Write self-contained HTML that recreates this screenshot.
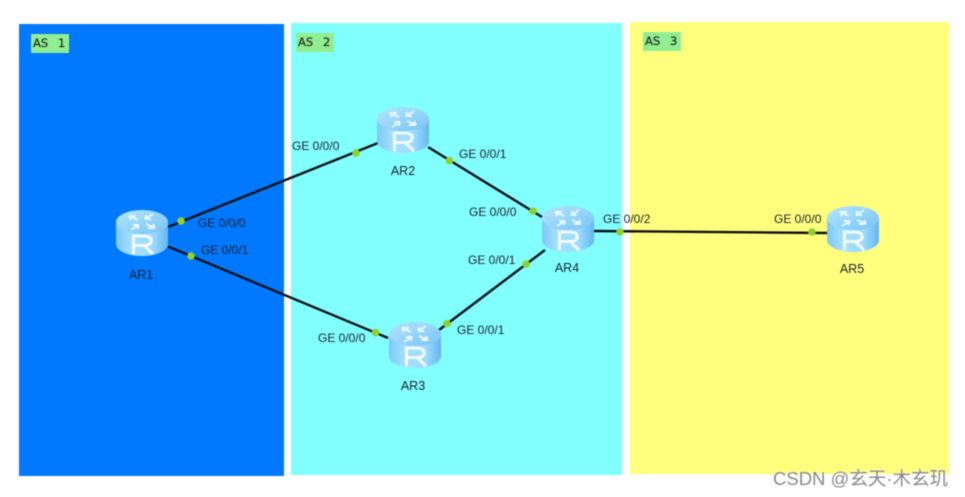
<!DOCTYPE html>
<html>
<head>
<meta charset="utf-8">
<style>
html,body{margin:0;padding:0;background:#fff;width:965px;height:497px;overflow:hidden}
svg{display:block;position:absolute;left:0;top:0;filter:blur(.5px)}
.l{font-family:"Liberation Sans",sans-serif;font-size:12px;fill:#1a2430}
.n{font-family:"Liberation Sans",sans-serif;font-size:12.5px;fill:#1a2430;text-anchor:middle}
.a{font-family:"DejaVu Sans",sans-serif;font-size:11.5px;fill:#26352a;stroke:#26352a;stroke-width:.25}
.w{font-family:"Liberation Sans","Noto Sans CJK SC",sans-serif;font-size:18.5px;fill:#8a8a8a;stroke:#fff;stroke-width:.6;paint-order:stroke}
</style>
</head>
<body>
<svg width="965" height="497" viewBox="0 0 965 497" xmlns="http://www.w3.org/2000/svg">
<defs>
<linearGradient id="side" x1="0" x2="1" y1="0" y2="0">
<stop offset="0" stop-color="#7cc8fa"/><stop offset=".3" stop-color="#a6e0ff"/><stop offset=".7" stop-color="#a0dcff"/><stop offset="1" stop-color="#62b6f3"/>
</linearGradient>
<linearGradient id="top" x1="0" x2="1" y1="0" y2="1">
<stop offset="0" stop-color="#b4e6fd"/><stop offset="1" stop-color="#78c4f6"/>
</linearGradient>
<g id="r">
<path d="M0 12V34C0 41 12 46 26 46S52 41 52 34V12Z" fill="url(#side)"/>
<ellipse cx="26" cy="12" rx="26" ry="12" fill="url(#top)"/>
<path d="M13 6L22 10M13 6h7M13 6l2 4M39 18L30 14M39 18h-7M39 18l-2-4M37 4L29 9M29 9h6M29 9l1.500-4M15 20L23 15M23 15h-6M23 15l-1.500 4" stroke="#e8f8ff" stroke-width="1.900" fill="none"/>
<path d="M17.5 44V26H28.500C37.500 26 37.500 35.500 28.500 35.500H17.500M28 35.500L37 44" stroke="#f6fcff" stroke-width="2.800" fill="none"/>
</g>
</defs>

<rect width="965" height="497" fill="#fff"/>
<rect x="19" y="24" width="265" height="452" fill="#0078ff"/>
<rect x="291" y="23" width="331" height="452" fill="#82ffff"/>
<rect x="630" y="22" width="319" height="452" fill="#ffff7d"/>

<rect x="31" y="34" width="38" height="19" fill="#90ee90"/>
<rect x="296" y="33" width="38" height="19" fill="#90ee90"/>
<rect x="643" y="32" width="38" height="19" fill="#90ee90"/>
<text class="a" x="33" y="47">AS</text><text class="a" x="58" y="47">1</text>
<text class="a" x="298" y="46">AS</text><text class="a" x="323" y="46">2</text>
<text class="a" x="645" y="45">AS</text><text class="a" x="670" y="45">3</text>

<g stroke="#0c1216" stroke-width="2.400" fill="none">
<line x1="168" y1="227" x2="378" y2="143"/>
<line x1="168" y1="246.500" x2="388" y2="338"/>
<line x1="428" y1="147" x2="542" y2="217"/>
<line x1="439" y1="330" x2="545" y2="250"/>
<line x1="594" y1="231" x2="828" y2="233"/>
</g>

<use href="#r" x="116" y="210"/>
<use href="#r" x="377" y="107"/>
<use href="#r" x="389" y="322"/>
<use href="#r" x="542" y="206"/>
<use href="#r" x="827" y="206"/>

<g fill="#8ed22c">
<circle cx="181" cy="221" r="3.800"/>
<circle cx="191" cy="256" r="3.800"/>
<circle cx="356" cy="153" r="3.800"/>
<circle cx="449.500" cy="160.500" r="3.800"/>
<circle cx="533" cy="211" r="3.800"/>
<circle cx="526" cy="264" r="3.800"/>
<circle cx="375.500" cy="332.500" r="3.800"/>
<circle cx="447" cy="323.500" r="3.800"/>
<circle cx="620" cy="232" r="3.800"/>
<circle cx="812" cy="232" r="3.800"/>
</g>

<text class="l" x="198" y="227">GE 0/0/0</text>
<text class="l" x="201" y="254">GE 0/0/1</text>
<text class="l" x="292" y="150">GE 0/0/0</text>
<text class="l" x="459" y="158">GE 0/0/1</text>
<text class="l" x="469" y="216">GE 0/0/0</text>
<text class="l" x="468" y="264">GE 0/0/1</text>
<text class="l" x="318" y="342">GE 0/0/0</text>
<text class="l" x="457" y="334">GE 0/0/1</text>
<text class="l" x="603" y="223">GE 0/0/2</text>
<text class="l" x="774" y="223">GE 0/0/0</text>

<text class="n" x="141" y="279">AR1</text>
<text class="n" x="403" y="175">AR2</text>
<text class="n" x="413" y="390">AR3</text>
<text class="n" x="567" y="272">AR4</text>
<text class="n" x="852" y="273">AR5</text>

<text class="w" x="773" y="485">CSDN @玄天·木玄玑</text>
</svg>
</body>
</html>
